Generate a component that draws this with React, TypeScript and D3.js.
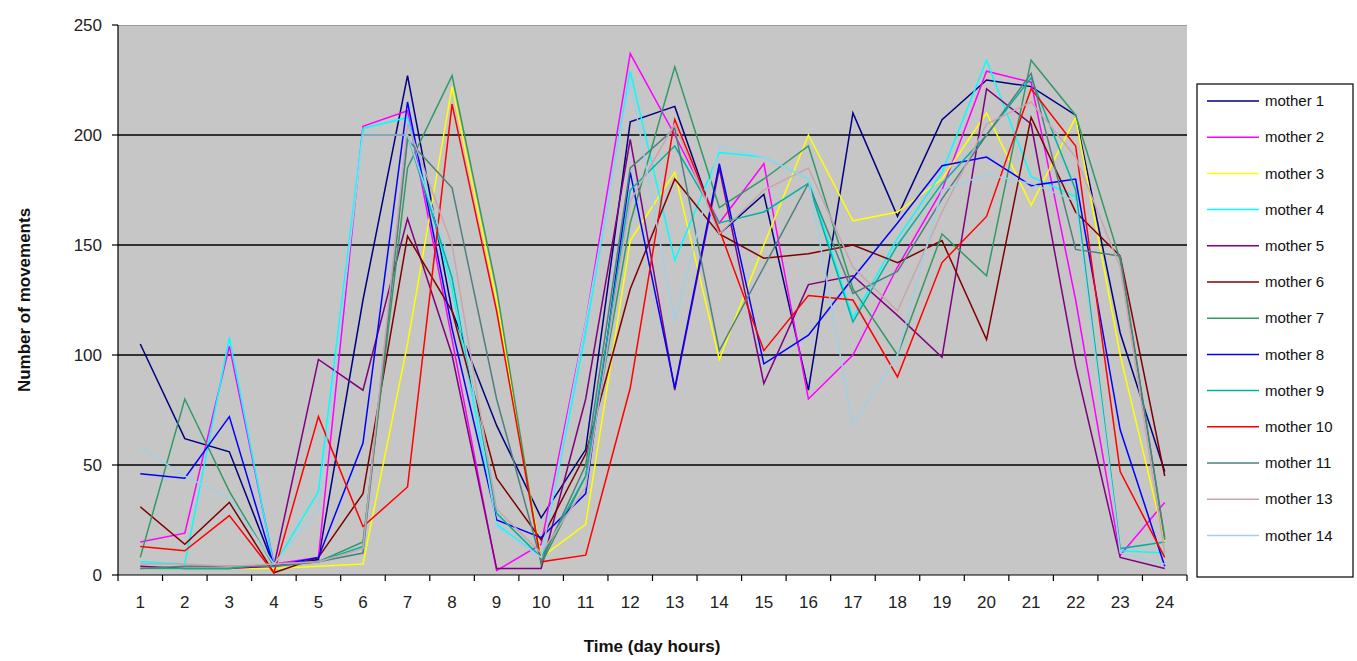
import React from "react";
import * as d3 from "d3";

const hours = [1,2,3,4,5,6,7,8,9,10,11,12,13,14,15,16,17,18,19,20,21,22,23,24];
const yTicks = [0, 50, 100, 150, 200, 250];

const seriesNames = ["mother 1","mother 2","mother 3","mother 4","mother 5","mother 6","mother 7","mother 8","mother 9","mother 10","mother 11","mother 13","mother 14"];
const seriesColors = ["#000080","#FF00FF","#FFFF00","#00FFFF","#800080","#800000","#339966","#0000FF","#00B3A0","#FF0000","#4F7F7F","#C8A6AE","#9FD0E6"];

const mother1  = [105,62,56,4,7,125,227,120,68,26,57,206,213,155,173,84,210,163,207,225,222,209,110,47];
const mother2  = [15,19,104,5,8,204,211,107,2,14,115,237,200,160,187,80,100,140,175,229,224,125,9,33];
const mother3  = [3,3,3,3,4,5,105,222,125,8,23,152,183,98,150,200,161,165,180,210,168,208,100,15];
const mother4  = [6,5,108,4,38,203,208,130,23,8,110,229,143,192,190,180,117,153,183,234,181,172,11,10];
const mother5  = [4,3,3,4,98,84,162,100,3,3,80,198,84,185,87,132,136,118,99,221,205,95,8,3];
const mother6  = [31,14,33,1,8,37,154,120,44,16,55,130,180,155,144,146,150,142,152,107,208,165,145,45];
const mother7  = [8,80,38,4,6,15,185,227,130,5,45,160,231,167,180,195,130,100,155,136,234,209,143,17];
const mother8  = [46,44,72,4,8,60,215,112,25,17,37,183,85,187,96,109,135,160,186,190,177,180,66,4];
const mother9  = [3,3,3,5,6,13,200,135,28,8,45,175,195,160,165,178,115,150,178,200,226,175,12,15];
const mother10 = [13,11,27,1,72,22,40,214,120,6,9,85,207,157,102,127,125,90,142,163,221,195,47,8];
const mother11 = [3,4,4,4,6,10,198,176,80,6,50,185,203,102,140,178,128,138,171,200,228,148,145,16];
const mother13 = [5,5,4,5,6,12,205,150,30,10,40,170,205,155,175,185,140,120,165,205,215,190,140,10];
const mother14 = [58,45,35,5,30,200,200,140,22,8,115,225,115,195,190,180,68,100,175,182,178,170,10,5];

const seriesValues = [mother1,mother2,mother3,mother4,mother5,mother6,mother7,mother8,mother9,mother10,mother11,mother13,mother14];

const W = 1357, H = 661;
const M = { left: 118, right: 1187, top: 25, bottom: 575 };
const FONT = "'Liberation Sans', Arial, sans-serif";

export default function App() {
  const x = d3.scaleBand<number>().domain(hours).range([M.left, M.right]).padding(0);
  const y = d3.scaleLinear().domain([0, 250]).range([M.bottom, M.top]);
  const cx = (h: number) => (x(h) as number) + x.bandwidth() / 2;
  const line = d3.line<number>().x((_, i) => cx(hours[i])).y((v) => y(v));

  const legX = 1197, legY = 84, legW = 156, legH = 493;
  const legStep = 36.2;

  return (
    <svg width={W} height={H} style={{ position: "absolute", left: 0, top: 0, background: "#fff" }} fontFamily={FONT}>
      <rect x={M.left} y={M.top} width={M.right - M.left} height={M.bottom - M.top} fill="#C6C6C6" />
      <line x1={M.left} x2={M.right} y1={M.top + 0.5} y2={M.top + 0.5} stroke="#9a9a9a" strokeWidth={1} />
      {yTicks.filter(t => t > 0 && t < 250).map(t => (
        <line key={t} x1={M.left} x2={M.right} y1={y(t)} y2={y(t)} stroke="#000" strokeWidth={1.3} />
      ))}
      {seriesValues.map((vals, i) => (
        <path key={seriesNames[i]} d={line(vals) || ""} fill="none" stroke={seriesColors[i]} strokeWidth={1.5} strokeLinejoin="miter" />
      ))}
      {/* axes */}
      <line x1={M.left} x2={M.left} y1={M.top} y2={M.bottom} stroke="#000" strokeWidth={1.2} />
      <line x1={M.left} x2={M.right} y1={M.bottom} y2={M.bottom} stroke="#000" strokeWidth={1.2} />
      {yTicks.map(t => (
        <g key={t}>
          <line x1={M.left - 6} x2={M.left} y1={y(t)} y2={y(t)} stroke="#000" strokeWidth={1.2} />
          <text x={M.left - 16} y={y(t)} dy="0.35em" textAnchor="end" fontSize={17} fill="#222">{t}</text>
        </g>
      ))}
      {hours.map(h => (
        <line key={"t" + h} x1={x(h) as number} x2={x(h) as number} y1={M.bottom} y2={M.bottom + 6} stroke="#000" strokeWidth={1.2} />
      ))}
      <line x1={M.right} x2={M.right} y1={M.bottom} y2={M.bottom + 6} stroke="#000" strokeWidth={1.2} />
      {hours.map(h => (
        <text key={"l" + h} x={cx(h)} y={608} textAnchor="middle" fontSize={17} fill="#222">{h}</text>
      ))}
      <text x={652} y={652} textAnchor="middle" fontSize={17} fontWeight="bold" fill="#111">Time (day hours)</text>
      <text transform={`translate(30, 300) rotate(-90)`} textAnchor="middle" fontSize={17} fontWeight="bold" fill="#111">Number of movements</text>
      {/* legend */}
      <rect x={legX} y={legY} width={legW} height={legH} fill="#fff" stroke="#000" strokeWidth={1.2} />
      {seriesNames.map((n, i) => {
        const ly = legY + 17 + i * legStep;
        return (
          <g key={"lg" + n}>
            <line x1={legX + 10} x2={legX + 62} y1={ly} y2={ly} stroke={seriesColors[i]} strokeWidth={1.5} />
            <text x={legX + 68} y={ly} dy="0.35em" fontSize={15} fill="#111">{n}</text>
          </g>
        );
      })}
    </svg>
  );
}
